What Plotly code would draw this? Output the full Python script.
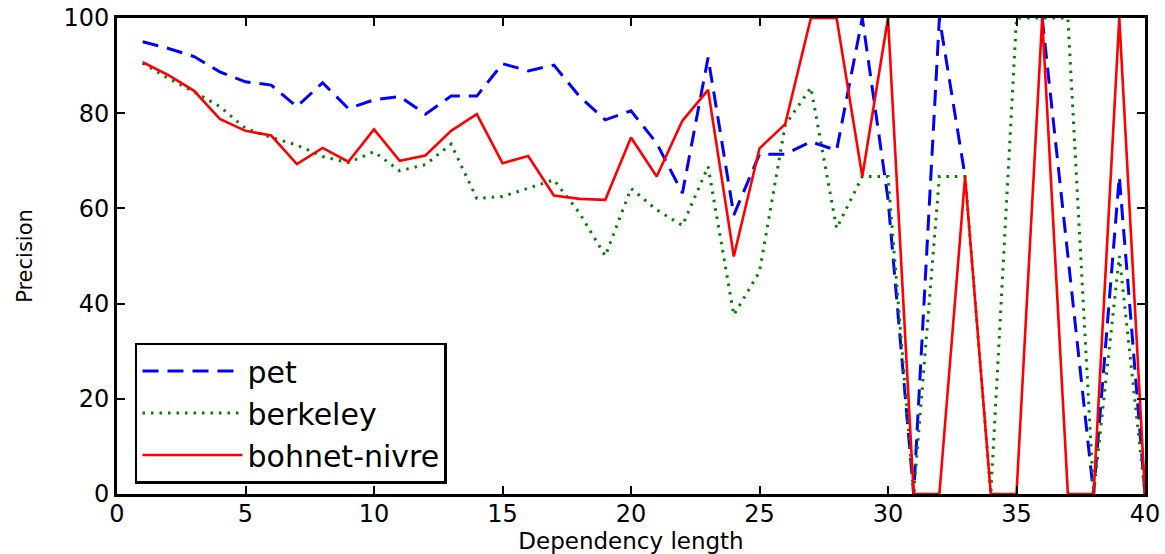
import plotly.graph_objects as go

dependency_length = list(range(1, 41))

pet = [95.0, 93.6, 91.9, 88.7, 86.6, 85.9, 81.4, 86.4, 81.0, 82.8,
       83.5, 79.8, 83.6, 83.6, 90.4, 88.9, 90.1, 83.5, 78.6, 80.5,
       73.7, 63.2, 91.7, 58.6, 71.4, 71.4, 74.0, 72.2, 100, 62.0,
       0, 100, 66.7, None, None, 100, 50, 0, 66.7, 0]

berkeley = [90.5, 87.3, 84.5, 81.4, 76.8, 74.9, 73.3, 70.9, 69.6, 71.9,
            67.9, 69.2, 73.5, 62.1, 62.5, 64.2, 66.0, 59.0, 50.0, 64.2,
            59.7, 56.4, 68.8, 37.6, 46.7, 77.5, 85.4, 55.8, 66.7, 66.7,
            0, 66.7, 66.7, 0, 100, 100, 100, 0, 50, 0]

bohnet_nivre = [90.7, 88.0, 84.7, 78.8, 76.3, 75.3, 69.3, 72.7, 69.8, 76.6,
                70.0, 71.1, 76.3, 79.8, 69.5, 71.0, 62.7, 62.0, 61.8, 74.9,
                66.7, 78.4, 84.9, 49.9, 72.6, 77.7, 100, 100, 66.7, 100,
                0, 0, 66.7, 0, 0, 100, 0, 0, 100, 0]

x_ticks = [0, 5, 10, 15, 20, 25, 30, 35, 40]
y_ticks = [0, 20, 40, 60, 80, 100]

FONT = "DejaVu Sans, Verdana, sans-serif"

fig = go.Figure()
fig.add_trace(go.Scatter(x=dependency_length, y=pet, mode="lines", name="pet",
                         line=dict(color="#0000ff", width=3, dash="16px,9px"),
                         connectgaps=False))
fig.add_trace(go.Scatter(x=dependency_length, y=berkeley, mode="lines", name="berkeley",
                         line=dict(color="#008000", width=3, dash="2.5px,6px")))
fig.add_trace(go.Scatter(x=dependency_length, y=bohnet_nivre, mode="lines", name="bohnet-nivre",
                         line=dict(color="#ff0000", width=2.6)))

axis_common = dict(
    showgrid=False, zeroline=False, showline=True, linecolor="black", linewidth=3,
    mirror="ticks", ticks="inside", ticklen=8, tickwidth=1.5, tickcolor="black",
    tickfont=dict(family=FONT, size=24, color="black"), automargin=False,
)

fig.update_xaxes(range=[0, 40], tickvals=x_ticks, ticktext=[str(v) for v in x_ticks],
                 ticklabelstandoff=-4,
                 title=dict(text="Dependency length", font=dict(family=FONT, size=23, color="black"),
                            standoff=0),
                 **axis_common)
fig.update_yaxes(range=[0, 100], tickvals=y_ticks, ticktext=[str(v) for v in y_ticks],
                 title=dict(text="Precision", font=dict(family=FONT, size=21, color="black"),
                            standoff=26),
                 **axis_common)

fig.update_layout(
    width=1165, height=554,
    margin=dict(l=117, r=20, t=18, b=60),
    paper_bgcolor="white", plot_bgcolor="white",
    showlegend=True,
    legend=dict(x=0.0175, y=0.022, xanchor="left", yanchor="bottom",
                bgcolor="white", bordercolor="black", borderwidth=2.5,
                font=dict(family=FONT, size=30, color="black"),
                itemwidth=100, tracegroupgap=0),
)

fig.write_html("out.html")
